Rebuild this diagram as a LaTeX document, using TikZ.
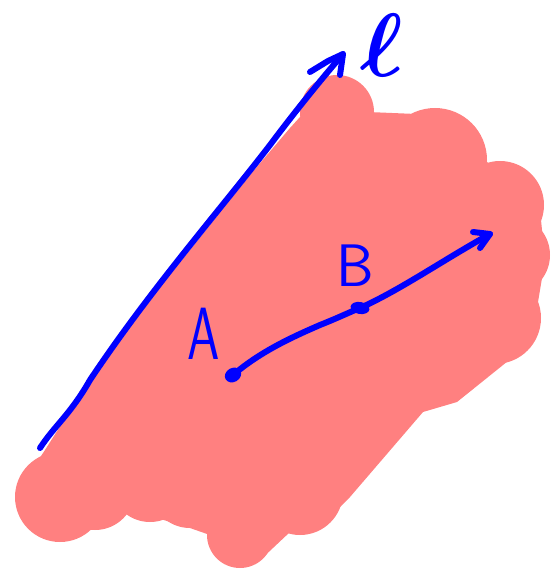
\documentclass[tikz,border=0pt]{standalone}
\usetikzlibrary{calc,shapes.geometric}
\definecolor{pinkfill}{RGB}{255,128,128}
\definecolor{penblue}{RGB}{0,0,255}
\tikzset{
  pen/.style={draw=penblue, line width=6pt, line cap=round, line join=round},
  blob/.style={fill=pinkfill, draw=none},
  lbl/.style={text=penblue, inner sep=0pt, font=\sffamily},
  dot/.style={fill=penblue, draw=none, ellipse, inner sep=0pt},
}
\begin{document}
\begin{tikzpicture}[x=1pt,y=-1pt]
\useasboundingbox (0,0) rectangle (550,572);
% pink region
\fill[blob] (343,90) -- (368,112) -- (440,115) -- (495,170) -- (540,210) -- (545,260)
  -- (535,320) -- (513,357) -- (457,402) -- (423,412) -- (350,497) -- (320,527)
  -- (290,532) -- (257,563) -- (237,560) -- (210,535) -- (187,527) -- (157,518)
  -- (115,507) -- (80,530) -- (47,535) -- (25,480) -- (45,450) -- (77,400)
  -- (130,325) -- (170,275) -- (210,225) -- (250,175) -- (290,128) -- (320,95) -- cycle;
\foreach \cx/\cy/\r in {337/112/37, 435/160/52, 500/205/44, 510/255/40, 495/318/46,
  300/492/43, 240/535/33, 190/488/40, 150/482/40, 95/490/40, 60/497/45}
  \fill[blob] (\cx,\cy) circle (\r);
% line l
\coordinate (l0) at (40,448);
\coordinate (l1) at (343,54);
\draw[pen] (l0) .. controls (55,425) and (70,415) .. (90,380)
  .. controls (150,290) and (220,210) .. (270,145)
  .. controls (300,105) and (325,75) .. (l1);
\draw[pen] (310,72) -- (328,61) -- (l1) -- (340,75);
\node[lbl, scale=9, font=\boldmath] (ell) at (382,45) {$\ell$};
% points
\node[dot, minimum width=17pt, minimum height=14pt, rotate=30] (A) at (233,375) {};
\node[dot, minimum width=19pt, minimum height=12pt, rotate=-10] (B) at (360,308) {};
\coordinate (R) at (490,234);
\draw[pen] (A.center) .. controls (260,352) and (290,338) .. (320,325)
  .. controls (340,317) and (350,312) .. (B.center)
  .. controls (400,290) and (440,262) .. (R);
\draw[pen] (473,232) -- (R) -- (480,248);
% labels
\node[lbl, font=\sffamily\fontsize{74}{74}\selectfont, xscale=0.7] (la) at (204,334) {A};
\node[lbl, font=\sffamily\fontsize{60}{60}\selectfont] (lb) at (355,266) {B};
\end{tikzpicture}
\end{document}
